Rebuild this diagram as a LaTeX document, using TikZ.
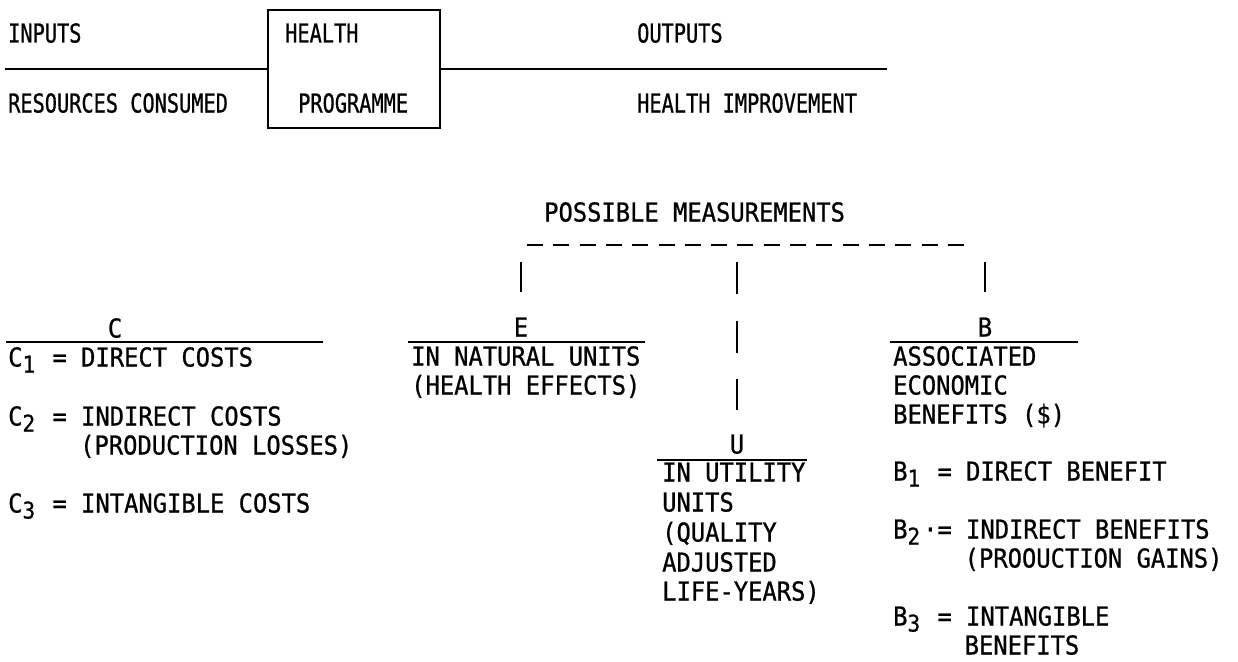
\documentclass[tikz,border=0pt]{standalone}
\usepackage{fontspec}
\newfontfamily\lowfont[FakeStretch=0.915,FakeBold=0.8]{DejaVu Sans Mono}
\newfontfamily\topfontfam[FakeStretch=0.78,FakeBold=0.8]{DejaVu Sans Mono}
\newcommand{\lowsize}{\lowfont\fontsize{26}{26}\selectfont}
\newcommand{\topsize}{\topfontfam\fontsize{26}{26}\selectfont}
\newcommand{\sbs}[1]{\makebox[0.602em][l]{\raisebox{-6pt}{\fontsize{23}{23}\selectfont #1}}}
\begin{document}
\begin{tikzpicture}[x=1pt,y=-1pt,
  txt/.style={inner sep=0pt,text height=19pt,text depth=0pt,anchor=west,font=\lowsize},
  toptxt/.style={inner sep=0pt,text height=19pt,text depth=0pt,anchor=west,font=\topsize},
  hdr/.style={inner sep=0pt,text height=19pt,text depth=0pt,anchor=center,font=\lowsize},
  rule/.style={line width=1.4pt},
  tick/.style={line width=1.6pt}]
\useasboundingbox (0,0) rectangle (1238,661);
% top part
\node[draw,line width=1.4pt,minimum width=172pt,minimum height=118pt,inner sep=0pt] (prog) at (354,69) {};
\node[toptxt] (health) at (285,33) {HEALTH};
\node[toptxt] (programme) at (298,103) {PROGRAMME};
\node[toptxt] (inputs) at (8,33) {INPUTS};
\node[toptxt] (resources) at (8,103) {RESOURCES CONSUMED};
\node[toptxt] (outputs) at (637,33) {OUTPUTS};
\node[toptxt] (improve) at (637,103) {HEALTH IMPROVEMENT};
\coordinate (lstart) at (5,69);
\coordinate (rend) at (887,69);
\draw[rule] (lstart) -- (prog.west);
\draw[rule] (prog.east) -- (rend);
% possible measurements
\node[txt] (possible) at (544,212) {POSSIBLE MEASUREMENTS};
\coordinate (dashA) at (527,245);
\coordinate (dashB) at (970,245);
\draw[line width=1.4pt,dash pattern=on 16pt off 10.3pt] (dashA) -- (dashB);
% ticks
\coordinate (tE1) at (521,262); \coordinate (tE2) at (521,292);
\draw[tick] (tE1) -- (tE2);
\coordinate (tU1) at (737,262); \coordinate (tU2) at (737,294);
\coordinate (tU3) at (737,321); \coordinate (tU4) at (737,353);
\coordinate (tU5) at (737,379); \coordinate (tU6) at (737,410);
\draw[tick] (tU1) -- (tU2);
\draw[tick] (tU3) -- (tU4);
\draw[tick] (tU5) -- (tU6);
\coordinate (tB1) at (985,262); \coordinate (tB2) at (985,292);
\draw[tick] (tB1) -- (tB2);
% C column
\node[hdr] (C) at (115,328) {C};
\coordinate (cl1) at (6,342); \coordinate (cl2) at (323,342);
\draw[rule] (cl1) -- (cl2);
\node[txt] (c1) at (8,357) {C\sbs{1} = DIRECT COSTS};
\node[txt] (c2) at (8,416) {C\sbs{2} = INDIRECT COSTS};
\node[txt] (c2b) at (80,445) {(PRODUCTION LOSSES)};
\node[txt] (c3) at (8,503) {C\sbs{3} = INTANGIBLE COSTS};
% E column
\node[hdr] (E) at (521,327) {E};
\coordinate (el1) at (408,342); \coordinate (el2) at (645,342);
\draw[rule] (el1) -- (el2);
\node[txt] (e1) at (411,356) {IN NATURAL UNITS};
\node[txt] (e2) at (411,385) {(HEALTH EFFECTS)};
% U column
\node[hdr] (U) at (737,444) {U};
\coordinate (ul1) at (657,460); \coordinate (ul2) at (807,460);
\draw[rule] (ul1) -- (ul2);
\node[txt] (u1) at (662,472) {IN UTILITY};
\node[txt] (u2) at (662,502) {UNITS};
\node[txt] (u3) at (662,532) {(QUALITY};
\node[txt] (u4) at (662,562) {ADJUSTED};
\node[txt] (u5) at (662,591) {LIFE-YEARS)};
% B column
\node[hdr] (B) at (985,327) {B};
\coordinate (bl1) at (890,342); \coordinate (bl2) at (1078,342);
\draw[rule] (bl1) -- (bl2);
\node[txt] (b0a) at (893,356) {ASSOCIATED};
\node[txt] (b0b) at (893,385) {ECONOMIC};
\node[txt] (b0c) at (893,414) {BENEFITS (\$)};
\node[txt] (b1) at (893,471) {B\sbs{1} = DIRECT BENEFIT};
\node[txt] (b2) at (893,529) {B\sbs{2}·= INDIRECT BENEFITS};
\node[txt] (b2b) at (964.5,558) {(PROOUCTION GAINS)};
\node[txt] (b3) at (893,616) {B\sbs{3} = INTANGIBLE};
\node[txt] (b3b) at (964.5,645) {BENEFITS};
\end{tikzpicture}
\end{document}
